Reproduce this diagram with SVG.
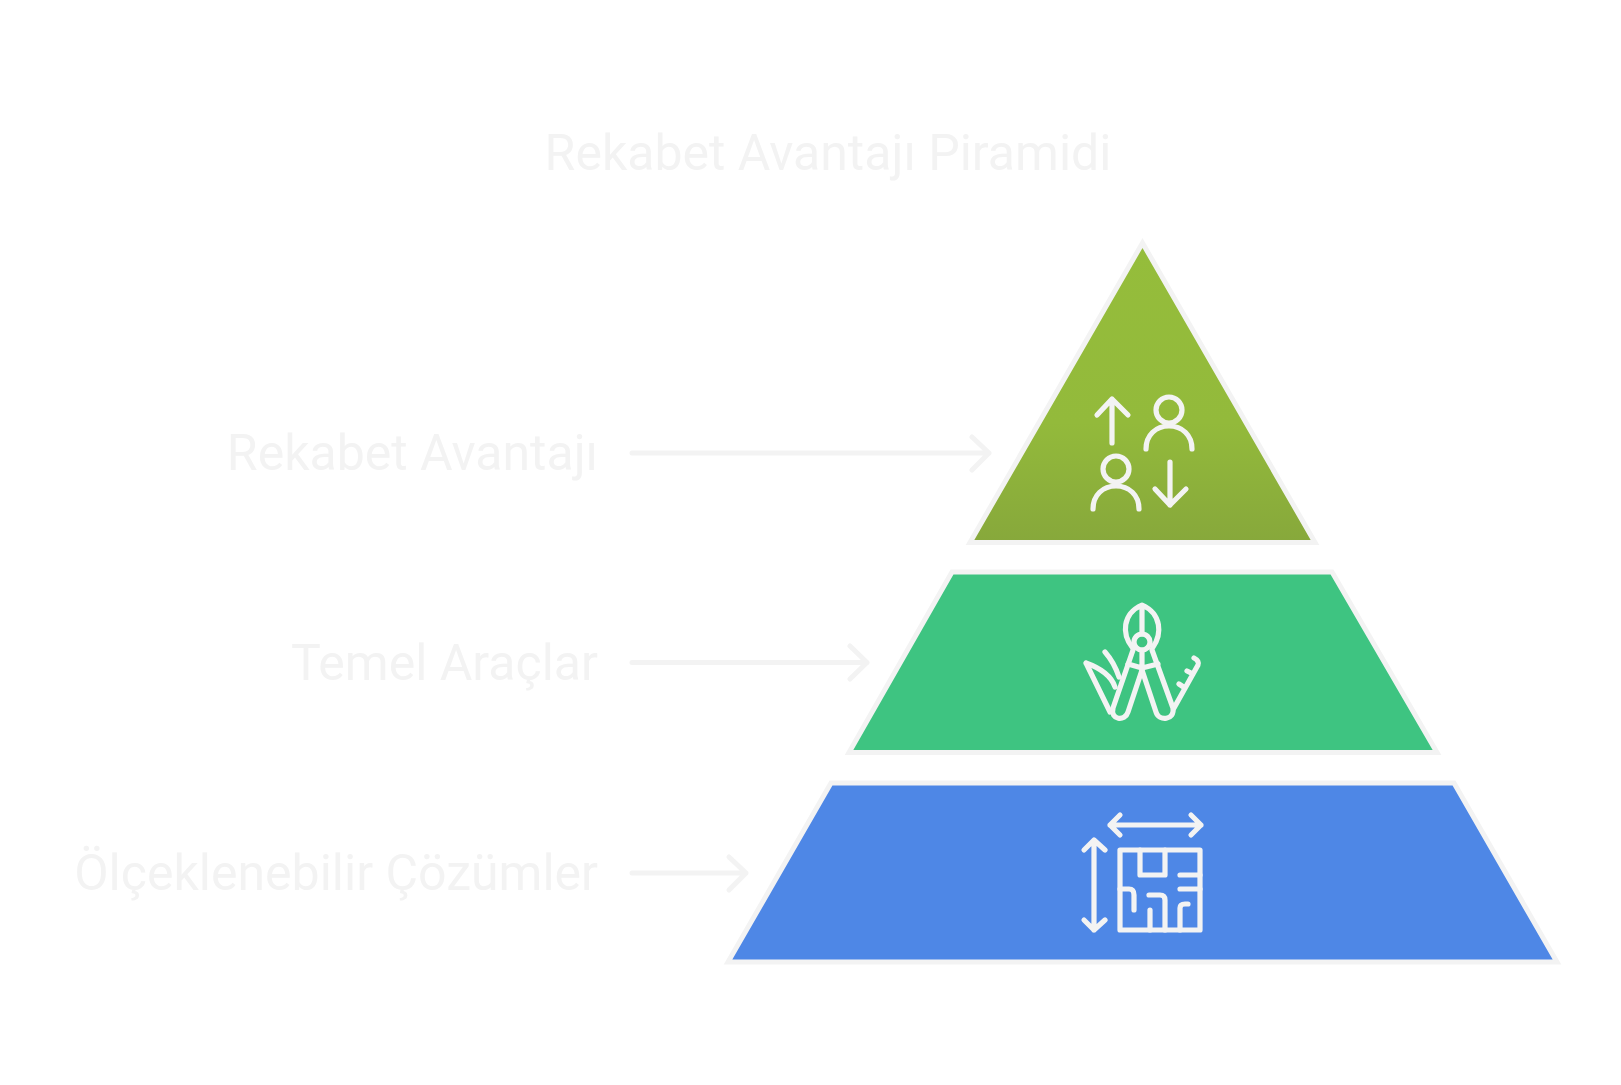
<svg xmlns="http://www.w3.org/2000/svg" width="1621" height="1085" viewBox="0 0 1621 1085">
<style>
text{font-family:Roboto,"Liberation Sans",sans-serif;font-size:50px;fill:#f3f3f3}
.lbl{text-anchor:end}
.shape{stroke:#f3f3f3;stroke-width:5;stroke-linejoin:miter}
.ic{fill:none;stroke:#f3f3f3;stroke-width:5.2;stroke-linecap:round;stroke-linejoin:round}
.con{fill:none;stroke:#f3f3f3;stroke-width:5;stroke-linecap:round;stroke-linejoin:round}
</style>
<defs><linearGradient id="g" x1="0" y1="0" x2="0" y2="1"><stop offset="0" stop-color="#95bd3b"/><stop offset="0.6" stop-color="#93ba3b"/><stop offset="1" stop-color="#87a83b"/></linearGradient></defs>
<rect width="1621" height="1085" fill="#fff"/>
<text id="title" x="828" y="170" text-anchor="middle">Rekabet Avantajı Piramidi</text>
<g id="connectors">
<path class="con" d="M632 453H989M972 437L989 453L972 470"/>
<path class="con" d="M632 662.500H867M850 646L867 662.500L850 679"/>
<path class="con" d="M632 873H746M729 857L746 873L729 890"/>
</g>
<g id="top">
<text class="lbl" x="598" y="470">Rekabet Avantajı</text>
<path class="shape" fill="url(#g)" d="M1142.500 243L1315 542.500H970Z"/>
<g class="ic">
<path d="M1112 443V399M1097 415L1112 399L1128 415"/>
<circle cx="1169" cy="410" r="13"/>
<path d="M1146 449C1146 435 1156 426 1169 426S1192 435 1192 449"/>
<circle cx="1116" cy="469" r="13"/>
<path d="M1093 509C1093 495 1103 486 1116 486S1139 495 1139 509"/>
<path d="M1170 462V505M1155 489L1170 505L1186 489"/>
</g>
</g>
<g id="middle">
<text class="lbl" x="598" y="680">Temel Araçlar</text>
<path class="shape" fill="#3ec481" d="M952 572H1332L1437 752.500H849Z"/>
<g class="ic">
<path d="M1132 647C1122 634 1122 614 1142 605C1162 614 1162 634 1153 647M1142 605V634"/>
<circle cx="1142" cy="642" r="8"/>
<path d="M1142 650V671M1128 664L1142 668L1158 664"/>
<path d="M1133 650L1113 708C1110 720 1125 722 1128 712L1142 670L1156 712C1159 722 1175 720 1173 708L1152 650"/>
<path d="M1086 663L1110 712M1086 663C1100 668 1111 675 1115 687M1105 652C1112 660 1116 668 1119 677"/>
<path d="M1194 658C1198 660 1199 663 1198 665L1174 708M1187 671L1193 674M1179 684L1185 688"/>
</g>
</g>
<g id="bottom">
<text class="lbl" x="598" y="890">Ölçeklenebilir Çözümler</text>
<path class="shape" fill="#4e87e6" d="M831 783H1454L1557 962H728Z"/>
<g class="ic">
<path d="M1110 825H1201M1120 815L1110 825L1120 835M1191 815L1201 825L1191 835"/>
<path d="M1094 840V930M1084 850L1094 840L1105 850M1084 920L1094 930L1105 920"/>
<rect x="1120" y="850" width="80" height="80"/>
<path d="M1140 850V875H1165V850M1180 875H1200M1180 889H1200M1120 889H1129Q1134 889 1134 895V910M1149 895H1160Q1165 895 1165 900V930M1150 910V930M1180 930V908Q1180 904 1185 904H1188"/>
</g>
</g>
</svg>
